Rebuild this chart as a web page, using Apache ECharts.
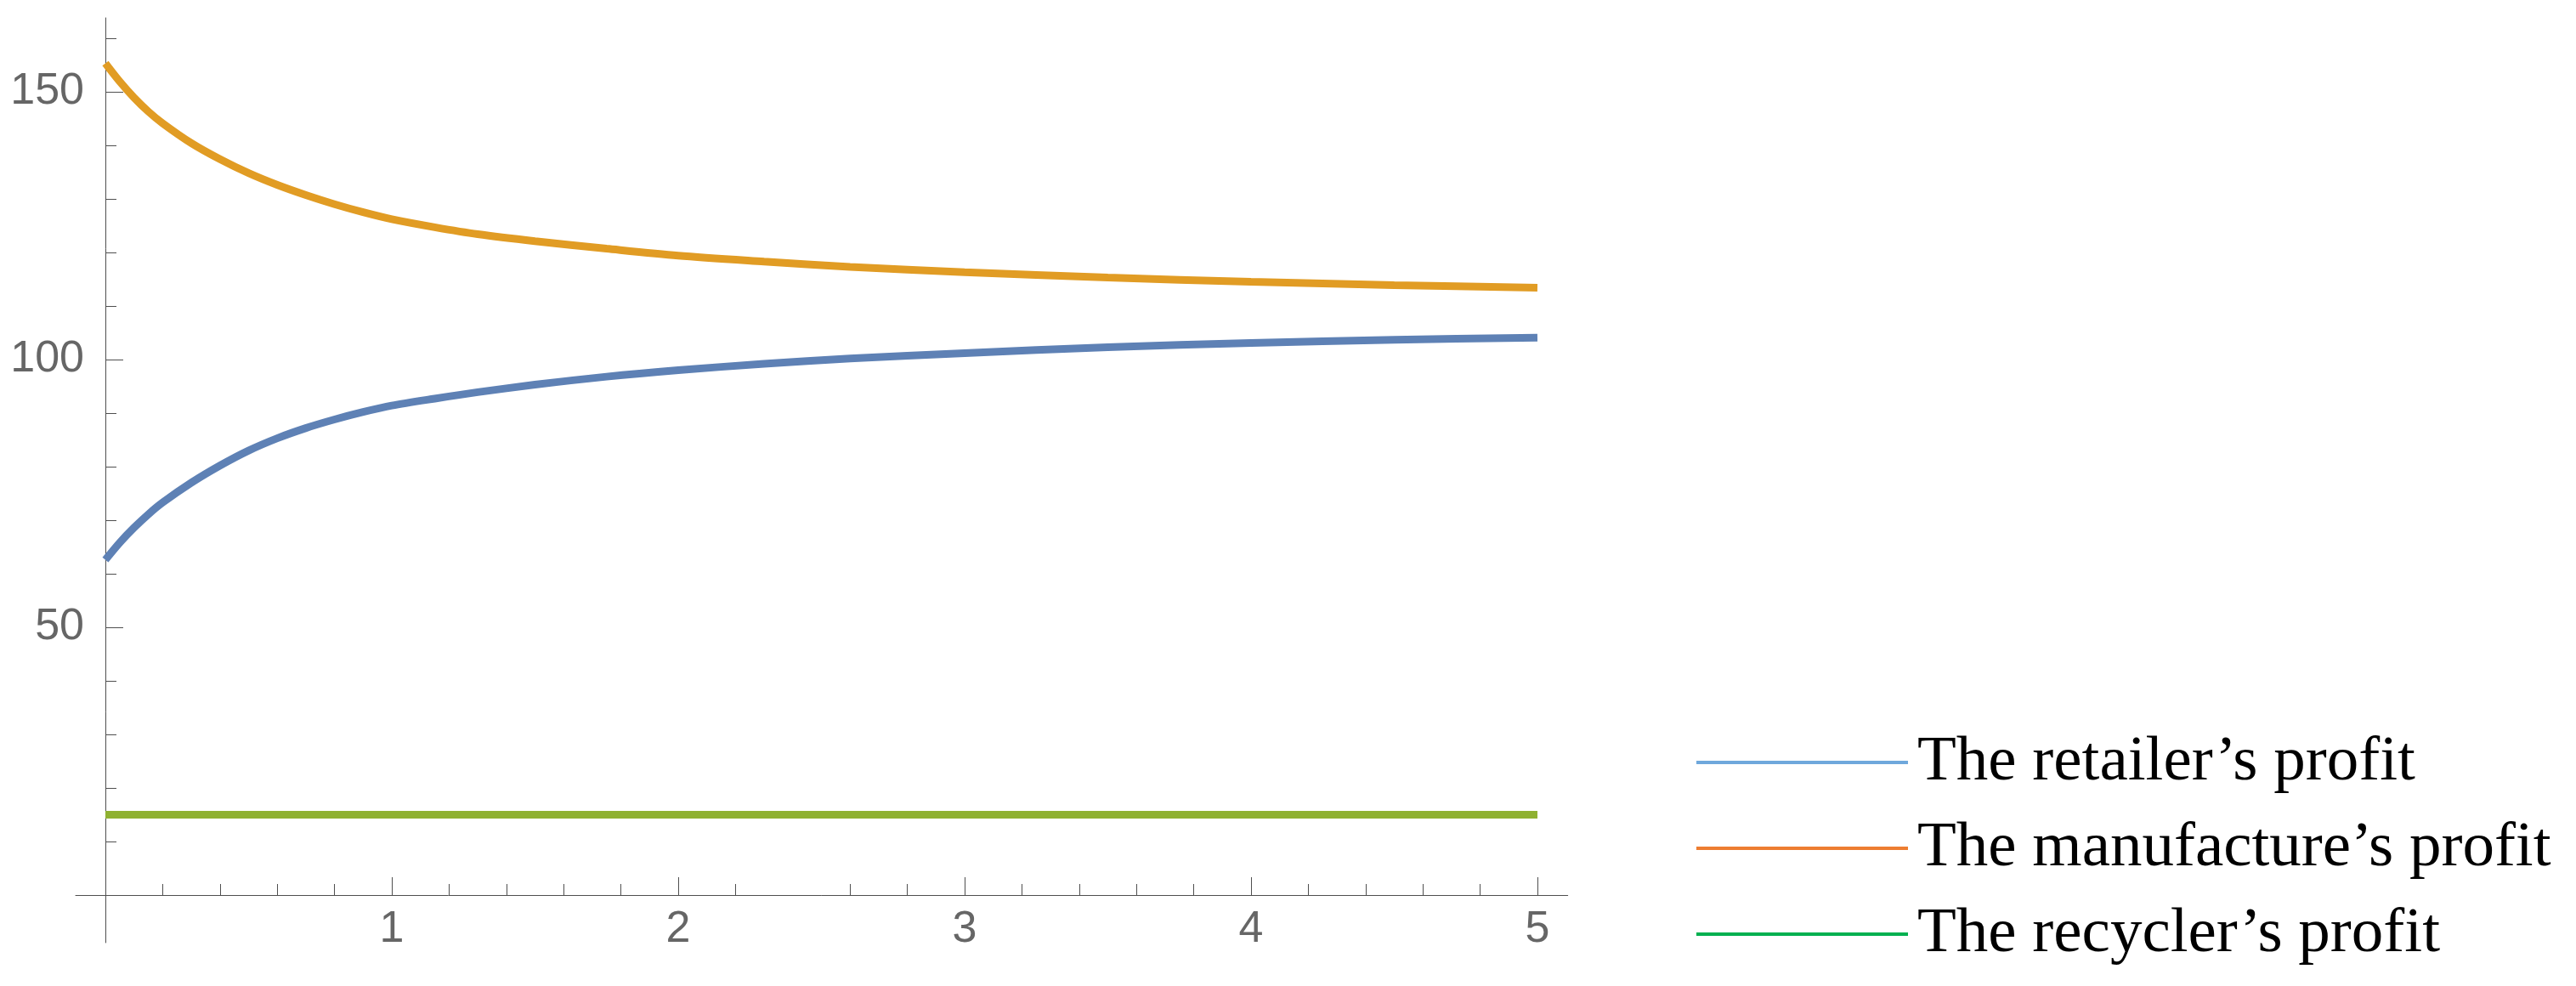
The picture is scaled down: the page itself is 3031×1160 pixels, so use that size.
<!DOCTYPE html>
<html>
<head>
<meta charset="utf-8">
<script src="https://cdn.jsdelivr.net/npm/echarts@6/dist/echarts.min.js"></script>
<style>
html,body{margin:0;padding:0;background:#fff;}
#chart{width:3031px;height:1160px;}
</style>
</head>
<body>
<div id="chart"></div>
<script>
// x values (parameter)
const xs = [0, 0.05, 0.1, 0.15, 0.2, 0.3, 0.4, 0.5, 0.6, 0.7, 0.8, 0.9, 1.0, 1.15, 1.3, 1.5, 1.75, 2.0, 2.3, 2.6, 3.0, 3.5, 4.0, 4.5, 5.0];
// series values
const retailerProfit     = [62.6, 65.8, 68.6, 71.1, 73.3, 77.0, 80.2, 83.0, 85.3, 87.2, 88.8, 90.2, 91.4, 92.7, 93.9, 95.3, 96.8, 98.0, 99.2, 100.2, 101.2, 102.3, 103.1, 103.7, 104.1];
const manufacturerProfit = [155.3, 151.9, 148.9, 146.3, 144.1, 140.4, 137.4, 134.8, 132.6, 130.7, 129.0, 127.5, 126.2, 124.7, 123.4, 122.1, 120.7, 119.4, 118.3, 117.3, 116.3, 115.3, 114.5, 113.9, 113.4];
const recyclerProfit     = [15.0, 15.0, 15.0, 15.0, 15.0, 15.0, 15.0, 15.0, 15.0, 15.0, 15.0, 15.0, 15.0, 15.0, 15.0, 15.0, 15.0, 15.0, 15.0, 15.0, 15.0, 15.0, 15.0, 15.0, 15.0];
const seriesNames = ["The retailer\u2019s profit", "The manufacture\u2019s profit", "The recycler\u2019s profit"];
// ticks
const xMajorTicks = [1, 2, 3, 4, 5];
const xMinorTicks = [0.2, 0.4, 0.6, 0.8, 1.2, 1.4, 1.6, 1.8, 2.2, 2.6, 2.8, 3.2, 3.4, 3.6, 3.8, 4.2, 4.4, 4.6, 4.8];
const yMajorTicks = [50, 100, 150];
const yMinorTicks = [10, 20, 30, 40, 60, 70, 80, 90, 110, 120, 130, 140, 160];
// plot range: data area 0..5.106 x 0..163.8; axis lines extend slightly past the origin
const xRange = [0, 5.106];
const yRange = [0, 163.8];
const xLineRange = [-0.104, 5.106];
const yLineRange = [-8.9, 163.8];

const pairs = arr => xs.map((x, i) => [x, arr[i]]);
const axisColor = '#4f4f4f';
const tickFont = { fontSize: 52, fontFamily: 'Liberation Sans', color: '#666666' };
const noLine = { show: false };

const chart = echarts.init(document.getElementById('chart'), null, { renderer: 'canvas' });
chart.setOption({
  animation: false,
  backgroundColor: '#ffffff',
  grid: [
    // main data grid: origin at (124, 1053)
    { left: 124, top: 21, width: 1720.7, height: 1032, containLabel: false, outerBoundsMode: 'none' },
    // grid carrying the x axis line (extends left of origin)
    { left: 89, top: 21, width: 1755.7, height: 1032, containLabel: false, outerBoundsMode: 'none' },
    // grid carrying the y axis line (extends below origin)
    { left: 124, top: 21, width: 1720.7, height: 1088, containLabel: false, outerBoundsMode: 'none' }
  ],
  xAxis: [
    { gridIndex: 0, type: 'value', min: xRange[0], max: xRange[1], position: 'bottom',
      splitLine: noLine, axisLine: { show: false, onZero: false },
      axisTick: { show: true, inside: true, length: 21, customValues: xMajorTicks, lineStyle: { color: axisColor, width: 1 } },
      axisLabel: Object.assign({ show: true, customValues: xMajorTicks, margin: 15 }, tickFont) },
    { gridIndex: 0, type: 'value', min: xRange[0], max: xRange[1], position: 'bottom',
      splitLine: noLine, axisLine: { show: false, onZero: false },
      axisTick: { show: true, inside: true, length: 13, customValues: xMinorTicks, lineStyle: { color: axisColor, width: 1 } },
      axisLabel: { show: false } },
    { gridIndex: 1, type: 'value', min: xLineRange[0], max: xLineRange[1], position: 'bottom',
      splitLine: noLine, axisLine: { show: true, onZero: false, lineStyle: { color: axisColor, width: 1 } },
      axisTick: { show: false }, axisLabel: { show: false } },
    { gridIndex: 2, type: 'value', min: xRange[0], max: xRange[1], position: 'bottom',
      splitLine: noLine, axisLine: { show: false, onZero: false }, axisTick: { show: false }, axisLabel: { show: false } }
  ],
  yAxis: [
    { gridIndex: 0, type: 'value', min: yRange[0], max: yRange[1], position: 'left',
      splitLine: noLine, axisLine: { show: false, onZero: false },
      axisTick: { show: true, inside: true, length: 21, customValues: yMajorTicks, lineStyle: { color: axisColor, width: 1 } },
      axisLabel: Object.assign({ show: true, customValues: yMajorTicks, margin: 25, padding: [0, 0, 16, 0] }, tickFont) },
    { gridIndex: 0, type: 'value', min: yRange[0], max: yRange[1], position: 'left',
      splitLine: noLine, axisLine: { show: false, onZero: false },
      axisTick: { show: true, inside: true, length: 13, customValues: yMinorTicks, lineStyle: { color: axisColor, width: 1 } },
      axisLabel: { show: false } },
    { gridIndex: 1, type: 'value', min: yRange[0], max: yRange[1], position: 'left',
      splitLine: noLine, axisLine: { show: false, onZero: false }, axisTick: { show: false }, axisLabel: { show: false } },
    { gridIndex: 2, type: 'value', min: yLineRange[0], max: yLineRange[1], position: 'left',
      splitLine: noLine, axisLine: { show: true, onZero: false, lineStyle: { color: axisColor, width: 1 } },
      axisTick: { show: false }, axisLabel: { show: false } }
  ],
  legend: {
    orient: 'vertical',
    left: 1996,
    top: 852,
    padding: 0,
    icon: 'rect',
    itemWidth: 249,
    itemHeight: 4,
    itemGap: 11,
    textStyle: { fontFamily: 'Liberation Serif', fontSize: 75, color: '#000000', lineHeight: 70, padding: [0, 0, 20, 6] },
    data: [
      { name: seriesNames[0], itemStyle: { color: '#6fa8dc' } },
      { name: seriesNames[1], itemStyle: { color: '#ed7d31' } },
      { name: seriesNames[2], itemStyle: { color: '#00b050' } }
    ]
  },
  series: [
    { name: seriesNames[0], type: 'line', xAxisIndex: 0, yAxisIndex: 0, data: pairs(retailerProfit), smooth: 0.3, showSymbol: false, lineStyle: { color: '#5e81b5', width: 9 }, itemStyle: { color: '#5e81b5' } },
    { name: seriesNames[1], type: 'line', xAxisIndex: 0, yAxisIndex: 0, data: pairs(manufacturerProfit), smooth: 0.3, showSymbol: false, lineStyle: { color: '#e19c24', width: 9 }, itemStyle: { color: '#e19c24' } },
    { name: seriesNames[2], type: 'line', xAxisIndex: 0, yAxisIndex: 0, data: pairs(recyclerProfit), smooth: false, showSymbol: false, lineStyle: { color: '#8fb131', width: 9 }, itemStyle: { color: '#8fb131' } }
  ]
});
</script>
</body>
</html>
